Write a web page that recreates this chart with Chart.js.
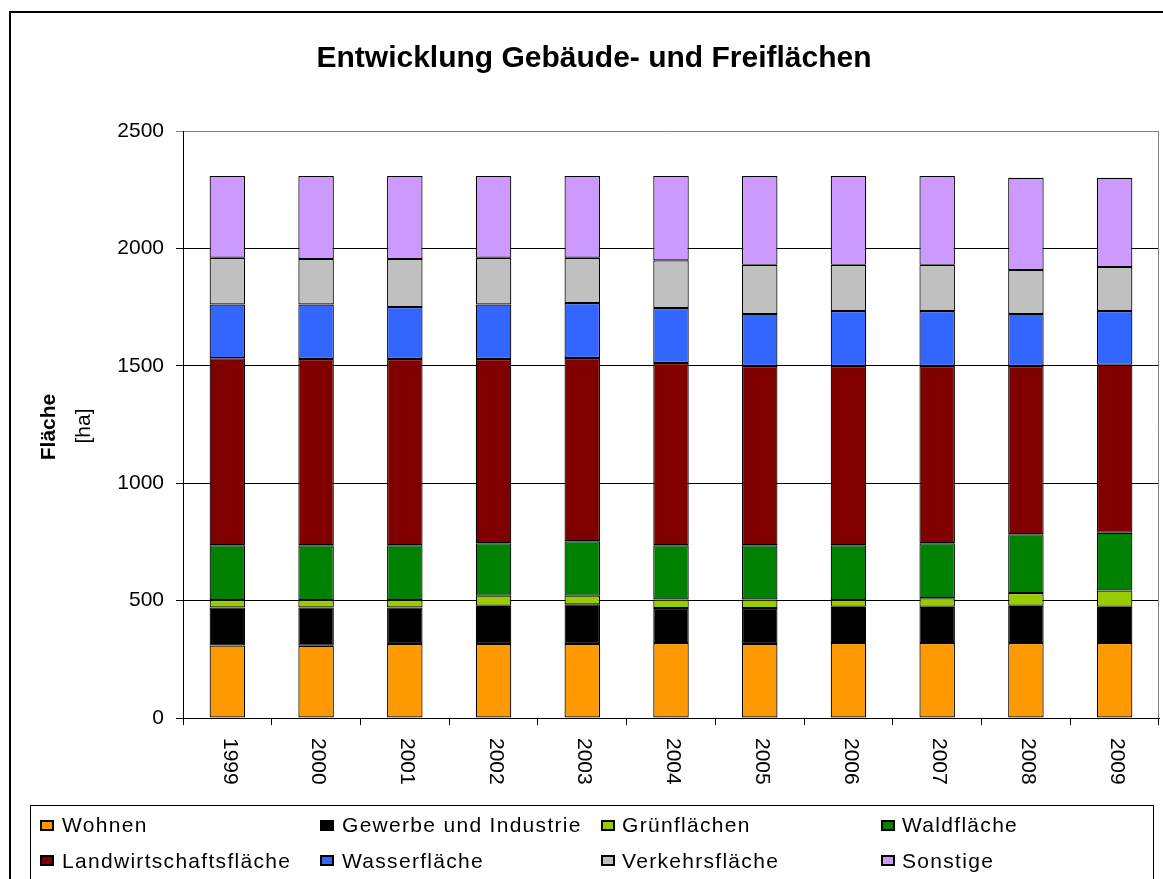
<!DOCTYPE html>
<html>
<head>
<meta charset="utf-8">
<script src="https://cdn.jsdelivr.net/npm/chart.js@4.4.1/dist/chart.umd.min.js"></script>
<style>
  html, body { margin: 0; padding: 0; background: #ffffff; }
  #wrap { width: 1163px; height: 879px; }
</style>
</head>
<body>
<div id="wrap"><canvas id="c" width="1163" height="879"></canvas></div>
<script>
const years = ['1999','2000','2001','2002','2003','2004','2005','2006','2007','2008','2009'];
const wohnen   = [309, 308, 315, 315, 315, 319, 315, 319, 319, 319, 319];
const gewerbe  = [162, 163, 156, 163, 169, 149, 153, 155, 155, 159, 155];
const gruen    = [ 31,  31,  31,  43,  37,  37,  37,  28,  36,  54,  69];
const wald     = [234, 234, 234, 223, 232, 231, 231, 234, 234, 251, 246];
const landw    = [796, 793, 793, 785, 780, 776, 763, 763, 755, 716, 715];
const wasser   = [229, 232, 221, 232, 234, 234, 222, 234, 234, 222, 229];
const verkehr  = [199, 194, 205, 199, 193, 203, 209, 197, 197, 187, 188];
const sonstige = [348, 353, 353, 348, 348, 359, 378, 378, 378, 393, 380];
const seriesNames = ['Wohnen','Gewerbe und Industrie','Grünflächen','Waldfläche','Landwirtschaftsfläche','Wasserfläche','Verkehrsfläche','Sonstige'];
const seriesColors = ['#FF9900','#000000','#99CC00','#008000','#800000','#3366FF','#C0C0C0','#CC99FF'];
const yTicks = [0, 500, 1000, 1500, 2000, 2500];
const chartTitle = 'Entwicklung Gebäude- und Freiflächen';
const yTitleBold = 'Fläche';
const yTitleUnit = '[ha]';

const FONT = '"Liberation Sans", Arial, Helvetica, sans-serif';
const seriesData = [wohnen, gewerbe, gruen, wald, landw, wasser, verkehr, sonstige];

const datasets = seriesData.map((d, i) => ({
  label: seriesNames[i],
  data: d,
  backgroundColor: seriesColors[i],
  borderColor: '#000000',
  borderWidth: 1.2,
  borderSkipped: false,
  barPercentage: 0.4,
  categoryPercentage: 1.0,
  stack: 's'
}));

const decor = {
  id: 'decor',
  afterDraw(chart) {
    const ctx = chart.ctx;
    const area = chart.chartArea;
    const xs = chart.scales.x;
    ctx.save();
    // outer frame
    ctx.strokeStyle = '#000';
    ctx.lineWidth = 2;
    ctx.beginPath();
    ctx.moveTo(10, 900); ctx.lineTo(10, 12); ctx.lineTo(1170, 12);
    ctx.stroke();
    // right plot border
    ctx.strokeStyle = '#808080';
    ctx.lineWidth = 1;
    ctx.beginPath();
    ctx.moveTo(Math.round(area.right) - 0.5, area.top);
    ctx.lineTo(Math.round(area.right) - 0.5, area.bottom);
    ctx.stroke();
    // title
    ctx.fillStyle = '#000';
    ctx.font = 'bold 30px ' + FONT;
    ctx.textAlign = 'center';
    ctx.textBaseline = 'alphabetic';
    ctx.fillText(chartTitle, 594, 67);
    // y title
    ctx.save();
    ctx.translate(49, 427);
    ctx.rotate(-Math.PI / 2);
    ctx.font = 'bold 21px ' + FONT;
    ctx.textBaseline = 'middle';
    ctx.fillText(yTitleBold, 0, 0);
    ctx.restore();
    ctx.save();
    ctx.translate(84, 426);
    ctx.rotate(-Math.PI / 2);
    ctx.font = '21px ' + FONT;
    ctx.textBaseline = 'middle';
    ctx.fillText(yTitleUnit, 0, 0);
    ctx.restore();
    // x labels, reading top to bottom
    ctx.font = '21px ' + FONT;
    chart.data.labels.forEach((lab, i) => {
      const x = xs.getPixelForValue(i) + 2;
      ctx.save();
      ctx.translate(x, area.bottom + 20);
      ctx.rotate(Math.PI / 2);
      ctx.textAlign = 'left';
      ctx.textBaseline = 'middle';
      ctx.fillText(lab, 0, 0);
      ctx.restore();
    });
    // legend box
    ctx.strokeStyle = '#000';
    ctx.lineWidth = 1;
    ctx.strokeRect(30.5, 805.5, 1123, 100);
    const markX = [40, 320, 601, 881];
    const textX = [62, 342, 622, 902];
    const markY = [820, 855];
    const baseY = [832, 868];
    ctx.font = '21px ' + FONT;
    ctx.textAlign = 'left';
    ctx.textBaseline = 'alphabetic';
    if ('letterSpacing' in ctx) ctx.letterSpacing = '1.3px';
    chart.data.datasets.forEach((ds, i) => {
      const col = i % 4, row = Math.floor(i / 4);
      ctx.fillStyle = ds.backgroundColor;
      ctx.fillRect(markX[col], markY[row], 14, 11);
      ctx.strokeStyle = '#000';
      ctx.lineWidth = 2;
      ctx.strokeRect(markX[col] + 1, markY[row] + 1, 12, 9);
      ctx.fillStyle = '#000';
      ctx.fillText(ds.label, textX[col], baseY[row]);
    });
    ctx.restore();
  }
};

new Chart(document.getElementById('c'), {
  type: 'bar',
  data: { labels: years, datasets: datasets },
  options: {
    responsive: false,
    animation: false,
    devicePixelRatio: 1,
    layout: { padding: { top: 131, left: 0, right: 4, bottom: 0 } },
    plugins: { legend: { display: false }, title: { display: false }, tooltip: { enabled: false } },
    scales: {
      x: {
        stacked: true,
        afterFit(s) { s.height = 161; },
        ticks: { display: false },
        grid: { display: true, drawOnChartArea: false, drawTicks: true, tickLength: 7, color: '#000', offset: true },
        border: { display: true, color: '#000', width: 1 }
      },
      y: {
        stacked: true,
        min: 0,
        max: 2500,
        afterFit(s) { s.width = 183; },
        afterBuildTicks(s) { s.ticks = yTicks.map(v => ({ value: v })); },
        ticks: { color: '#000', font: { family: FONT, size: 21 }, padding: 12, callback: (v) => String(v) },
        grid: {
          color: (c) => (c.tick && c.tick.value === 2500 ? '#808080' : '#000'),
          tickLength: 7,
          lineWidth: 1
        },
        border: { display: true, color: '#000', width: 1 }
      }
    }
  },
  plugins: [decor]
});
</script>
</body>
</html>
